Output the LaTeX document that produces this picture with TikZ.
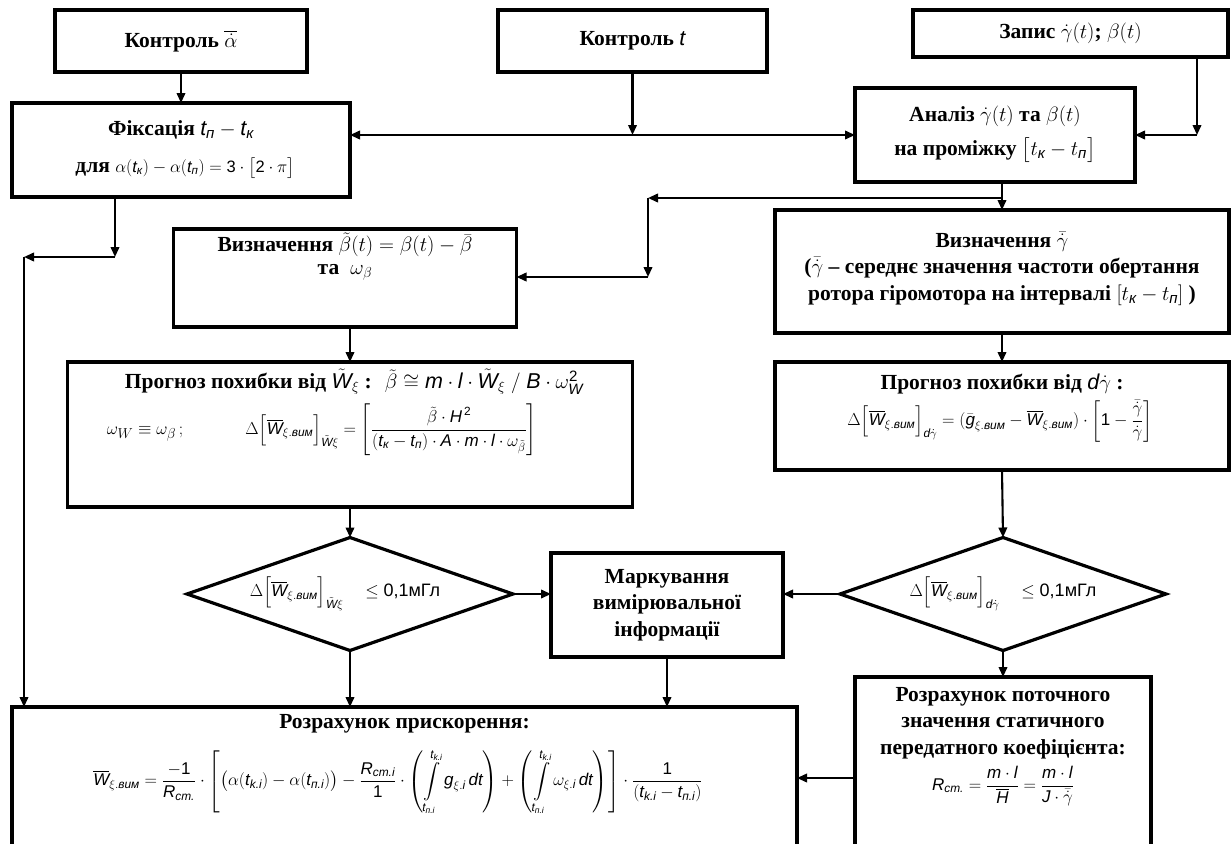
\documentclass[tikz,border=0pt]{standalone}
\usepackage{amsmath}
\usepackage{fontspec}
\setmainfont{Liberation Serif}
\newfontfamily\ar{Liberation Sans}
\usetikzlibrary{arrows.meta,shapes.geometric}
\newcommand\ai[1]{\text{\ar\mdseries\itshape #1}}
\newcommand\an[1]{\text{\ar\mdseries\upshape #1}}
\begin{document}
\begin{tikzpicture}[x=1pt,y=-1pt,
  box/.style={draw, line width=3.2pt, inner sep=0pt, outer sep=0pt},
  dia/.style={draw, diamond, line width=3.2pt, inner sep=0pt, outer sep=0pt},
  arr/.style={line width=2.1pt, -{Triangle[length=10pt,width=8.5pt]}},
  ttl/.style={font=\fontsize{21.5}{26.5}\selectfont\bfseries, align=center, inner sep=0pt},
  fml/.style={font=\fontsize{17}{20}\selectfont, inner sep=0pt}]
\useasboundingbox (0,0) rectangle (1231,843);
\clip (0,0) rectangle (1231,843);
\fill[white] (0,0) rectangle (1231,843);
% boxes
\node[box, minimum width=252pt, minimum height=62pt] (ka) at (181,41) {};
\node[ttl] at (ka) {Контроль $\overline{\dot{\alpha}}$};
\node[box, minimum width=269pt, minimum height=62pt] (kt) at (632.5,41) {};
\node[ttl] at (kt) {Контроль $\ai{t}$};
\node[box, minimum width=315pt, minimum height=47pt] (zap) at (1070.5,33.5) {};
\node[ttl] at (zap) {Запис $\dot{\gamma}(t)$; $\beta(t)$};
\node[box, minimum width=338pt, minimum height=94pt] (fiks) at (181,150) {};
\node[ttl] at (181,130) {Фіксація $\ai{t}_{\ai{п}}-\ai{t}_{\ai{к}}$};
\node[ttl] at (185,168) {для {\mdseries\fontsize{16.5}{20}\selectfont$\alpha(\ai{t}_{\ai{к}})-\alpha(\ai{t}_{\ai{п}})=\an{3}\cdot\bigl[\an{2}\cdot\pi\bigr]$}};
\node[box, minimum width=280pt, minimum height=94pt] (an) at (995,135) {};
\node[ttl] at (995,116) {Аналіз $\dot{\gamma}(t)$ та $\beta(t)$};
\node[ttl] at (995,150) {на проміжку $\bigl[t_{\ai{к}}-t_{\ai{п}}\bigr]$};
\node[box, minimum width=343pt, minimum height=98pt] (vb) at (345,278) {};
\node[ttl] at (345,245) {Визначення $\tilde{\beta}(t)=\beta(t)-\bar{\beta}$};
\node[ttl] at (345,272) {та $\;\omega_{\beta}$};
\node[box, minimum width=454pt, minimum height=123pt] (vg) at (1002,271.5) {};
\node[ttl] at (1002,241) {Визначення $\smash{\bar{\dot{\gamma}}}$};
\node[ttl] at (1002,268) {($\smash{\bar{\dot{\gamma}}}$ – середнє значення частоти обертання};
\node[ttl] at (1002,295) {ротора гіромотора на інтервалі $[t_{\ai{к}}-t_{\ai{п}}]$ )};
\node[box, minimum width=565pt, minimum height=145pt] (pw) at (350,434.5) {};
\node[ttl] at (354,382) {Прогноз похибки від $\tilde{\ai{W}}_{\xi}$ : $\;\tilde{\beta}\cong\ai{m}\cdot\ai{l}\cdot\tilde{\ai{W}}_{\xi}\;/\;\ai{B}\cdot\omega_{\ai{W}}^{\an{2}}$};
\node[fml] at (322,430) {{\fontsize{19}{22}\selectfont$\omega_{W}\equiv\omega_{\beta}\,;$}\hspace{62pt}$\displaystyle\Delta\Bigl[\overline{\ai{W}}_{\xi.\ai{вим}}\Bigr]_{\tilde{\ai{W}}\xi}=\left[\frac{\tilde{\beta}\cdot\ai{H}^{\,\an{2}}}{(\ai{t}_{\ai{к}}-\ai{t}_{\ai{п}})\cdot\ai{A}\cdot\ai{m}\cdot\ai{l}\cdot\omega_{\tilde{\beta}}}\right]$};
\node[box, minimum width=454pt, minimum height=108pt] (pg) at (1002,416) {};
\node[ttl] at (1002,384) {Прогноз похибки від $\ai{d}\dot{\gamma}$ :};
\node[fml] at (1000,421) {$\displaystyle\Delta\Bigl[\overline{\ai{W}}_{\xi.\ai{вим}}\Bigr]_{\ai{d}\dot{\gamma}}=(\bar{\ai{g}}_{\xi.\ai{вим}}-\overline{\ai{W}}_{\xi.\ai{вим}})\cdot\left[\an{1}-\frac{\bar{\dot{\gamma}}}{\dot{\gamma}}\right]$};
% decisions
\node[dia, minimum width=326pt, minimum height=113pt] (dl) at (350,594) {};
\node[fml] at (345,594) {$\Delta\Bigl[\overline{\ai{W}}_{\xi.\ai{вим}}\Bigr]_{\tilde{\ai{W}}\xi}\quad\le\an{\fontsize{18}{20}\selectfont 0,1мГл}$};
\node[dia, minimum width=326pt, minimum height=113pt] (dr) at (1003,594) {};
\node[fml] at (1003,594) {$\Delta\Bigl[\overline{\ai{W}}_{\xi.\ai{вим}}\Bigr]_{\ai{d}\dot{\gamma}}\quad\le\an{\fontsize{18}{20}\selectfont 0,1мГл}$};
\node[box, minimum width=232pt, minimum height=104pt] (mk) at (667,605) {};
\node[ttl] at (mk) {Маркування\\вимірювальної\\інформації};
% bottom boxes (cut by the page edge)
\node[box, minimum width=785pt, minimum height=200pt] (bot) at (404.5,807) {};
\node[ttl] at (404.5,724) {Розрахунок прискорення:};
\node[fml] at (398,782) {$\displaystyle\overline{\ai{W}}_{\xi.\ai{вим}}=\frac{-\an{1}}{\ai{R}_{\ai{cm.}}}\cdot\left[\bigl(\alpha(\ai{t}_{\ai{k.i}})-\alpha(\ai{t}_{\ai{п.i}})\bigr)-\frac{\ai{R}_{\ai{cm.i}}}{\an{1}}\cdot\left(\int\limits_{\ai{t}_{\ai{п.i}}}^{\ai{t}_{\ai{k.i}}}\ai{g}_{\xi.\ai{i}}\,\ai{dt}\right)+\left(\int\limits_{\ai{t}_{\ai{п.i}}}^{\ai{t}_{\ai{k.i}}}\omega_{\xi.\ai{i}}\,\ai{dt}\right)\right]\cdot\frac{\an{1}}{(\ai{t}_{\ai{k.i}}-\ai{t}_{\ai{п.i}})}$};
\node[box, minimum width=296pt, minimum height=230pt] (rp) at (1003,792) {};
\node[ttl] at (1003,723) {Розрахунок поточного\\значення статичного\\передатного коефіцієнта:};
\node[fml] at (1003,786) {$\displaystyle\ai{R}_{\ai{cm.}}=\frac{\ai{m}\cdot\ai{l}}{\overline{\ai{H}}}=\frac{\ai{m}\cdot\ai{l}}{\ai{J}\cdot\bar{\dot{\gamma}}}$};
% connectors
\coordinate (j1) at (632.5,135);
\draw[arr] (kt.south) -- (j1);
\draw[arr] (j1) -- (fiks.east |- j1);
\draw[arr] (j1) -- (an.west |- j1);
\coordinate (zc) at (1197,135);
\draw[arr] (zap.south -| zc) -- (zc);
\draw[arr] (zc) -- (an.east |- zc);
\draw[arr] (ka.south) -- (ka.south |- fiks.north);
\coordinate (fc) at (115,257);
\coordinate (lc) at (24,257);
\draw[arr] (fiks.south -| fc) -- (fc);
\draw[arr] (fc) -- (lc);
\draw[arr] (lc) -- (bot.north -| lc);
\draw[arr] (an.south -| vg.north) -- (vg.north);
\coordinate (ab) at (1002,198);
\coordinate (bc) at (648,198);
\coordinate (bd) at (648,277);
\draw[arr] (ab) -- (bc);
\draw[arr] (bc) -- (bd);
\draw[arr] (bd) -- (vb.east |- bd);
\draw[arr] (vb.south -| dl.north) -- (dl.north |- pw.north);
\draw[arr] (vg.south) -- (pg.north);
\draw[arr] (pw.south) -- (dl.north);
\draw[arr] (pg.south) -- (dr.north);
\draw[arr] (dl.east) -- (mk.west |- dl.east);
\draw[arr] (dr.west) -- (mk.east |- dr.west);
\draw[arr] (dl.south) -- (dl.south |- bot.north);
\draw[arr] (mk.south) -- (mk.south |- bot.north);
\draw[arr] (dr.south) -- (rp.north);
\coordinate (rb) at (855,778);
\draw[arr] (rp.west |- rb) -- (bot.east |- rb);
\end{tikzpicture}
\end{document}
